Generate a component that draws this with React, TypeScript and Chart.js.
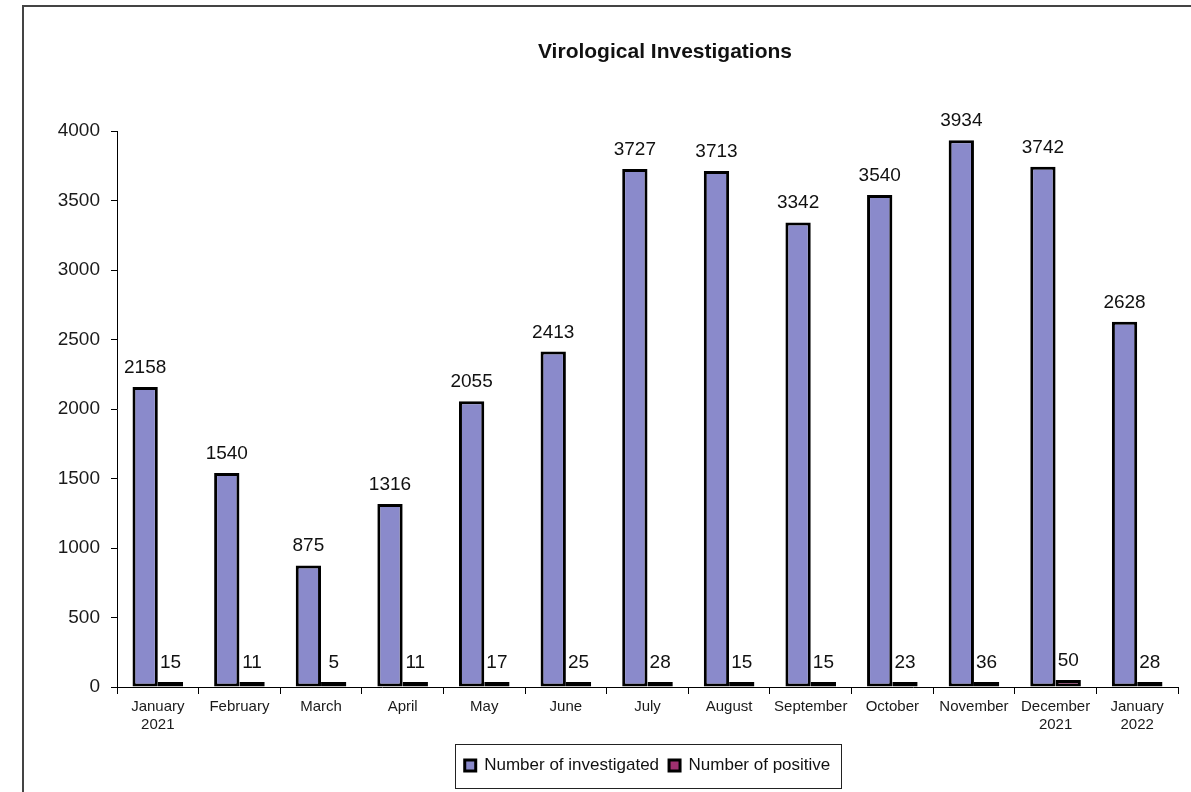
import React, { useEffect, useRef } from "react";
import { Chart, registerables } from "chart.js";

Chart.register(...registerables);

const categories: (string | string[])[] = [
  ["January", "2021"],
  "February",
  "March",
  "April",
  "May",
  "June",
  "July",
  "August",
  "September",
  "October",
  "November",
  ["December", "2021"],
  ["January", "2022"],
];

const investigated = [2158, 1540, 875, 1316, 2055, 2413, 3727, 3713, 3342, 3540, 3934, 3742, 2628];
const positive = [15, 11, 5, 11, 17, 25, 28, 15, 15, 23, 36, 50, 28];

const yTicks = [0, 500, 1000, 1500, 2000, 2500, 3000, 3500, 4000];

const titleText = "Virological Investigations";
const seriesNames = ["Number of investigated", "Number of positive"];

const FONT = "'Liberation Sans', Arial, sans-serif";

const framePlugin = {
  id: "frame",
  beforeDraw(chart: any) {
    const ctx = chart.ctx;
    ctx.save();
    ctx.fillStyle = "#ffffff";
    ctx.fillRect(0, 0, chart.width, chart.height);
    ctx.strokeStyle = "#444";
    ctx.lineWidth = 2;
    ctx.beginPath();
    ctx.moveTo(23, chart.height + 2);
    ctx.lineTo(23, 6);
    ctx.lineTo(chart.width + 2, 6);
    ctx.stroke();
    ctx.restore();
  },
};

const titlePlugin = {
  id: "customTitle",
  afterDraw(chart: any) {
    const ctx = chart.ctx;
    ctx.save();
    ctx.font = `bold 21px ${FONT}`;
    ctx.fillStyle = "#111";
    ctx.textAlign = "center";
    ctx.textBaseline = "middle";
    ctx.fillText(titleText, 665, 52);
    ctx.restore();
  },
};

const labelsPlugin = {
  id: "valueLabels",
  afterDatasetsDraw(chart: any) {
    const ctx = chart.ctx;
    ctx.save();
    ctx.font = `19px ${FONT}`;
    ctx.fillStyle = "#111";
    ctx.textAlign = "center";
    ctx.textBaseline = "alphabetic";
    chart.data.datasets.forEach((ds: any, di: number) => {
      const meta = chart.getDatasetMeta(di);
      meta.data.forEach((el: any, i: number) => {
        ctx.fillText(String(ds.data[i]), el.x, el.y - 14);
      });
    });
    ctx.restore();
  },
};

const legendBoxPlugin = {
  id: "legendBox",
  afterDraw(chart: any) {
    const lg = chart.legend;
    if (!lg || !lg.legendHitBoxes || !lg.legendHitBoxes.length) return;
    const hb = lg.legendHitBoxes;
    const first = hb[0];
    const last = hb[hb.length - 1];
    const left = first.left - 10;
    const right = last.left + last.width + 10;
    const top = first.top - 13.5;
    const bottom = first.top + first.height + 13.5;
    const ctx = chart.ctx;
    ctx.save();
    ctx.strokeStyle = "#222";
    ctx.lineWidth = 1;
    ctx.strokeRect(Math.round(left) + 0.5, Math.round(top) + 0.5, Math.round(right - left), Math.round(bottom - top));
    ctx.restore();
  },
};

export default function App() {
  const ref = useRef<HTMLCanvasElement | null>(null);

  useEffect(() => {
    if (!ref.current) return;
    const chart = new Chart(ref.current, {
      type: "bar",
      data: {
        labels: categories,
        datasets: [
          {
            label: seriesNames[0],
            data: investigated,
            backgroundColor: "#8a8acb",
            borderColor: "#000000",
            borderWidth: 3,
            borderSkipped: false,
            categoryPercentage: 0.62,
            barPercentage: 1.0,
          },
          {
            label: seriesNames[1],
            data: positive,
            backgroundColor: "#a03070",
            borderColor: "#000000",
            borderWidth: 3,
            borderSkipped: false,
            minBarLength: 5,
            categoryPercentage: 0.62,
            barPercentage: 1.0,
          },
        ],
      },
      options: {
        responsive: false,
        animation: false,
        layout: { padding: { top: 131, right: 13, bottom: 8, left: 0 } },
        plugins: {
          title: { display: false },
          tooltip: { enabled: false },
          legend: {
            display: true,
            position: "bottom",
            fullSize: false,
            labels: {
              boxWidth: 11,
              boxHeight: 11,
              padding: 10,
              color: "#111",
              font: { family: FONT, size: 17 },
            },
          },
        },
        scales: {
          x: {
            offset: true,
            grid: {
              offset: true,
              drawOnChartArea: false,
              drawTicks: true,
              tickLength: 7,
              color: "#000",
            },
            border: { display: true, color: "#000", width: 1 },
            ticks: {
              color: "#1a1a1a",
              font: { family: FONT, size: 15, lineHeight: 1.2 },
              padding: 4,
              maxRotation: 0,
              autoSkip: false,
            },
            afterFit(scale: any) {
              scale.height = 60;
            },
          },
          y: {
            min: 0,
            max: 4000,
            afterBuildTicks(scale: any) {
              scale.ticks = yTicks.map((v) => ({ value: v }));
            },
            grid: {
              drawOnChartArea: false,
              drawTicks: true,
              tickLength: 6,
              color: "#000",
            },
            border: { display: true, color: "#000", width: 1 },
            ticks: {
              color: "#1a1a1a",
              font: { family: FONT, size: 19 },
              padding: 11,
              callback: (value: any) => String(value),
            },
            afterFit(scale: any) {
              scale.width = 117;
            },
          },
        },
      },
      plugins: [framePlugin, titlePlugin, labelsPlugin, legendBoxPlugin],
    });
    return () => chart.destroy();
  }, []);

  return (
    <div style={{ position: "fixed", left: 0, top: 0, width: 1191, height: 792, background: "#fff" }}>
      <canvas ref={ref} width={1191} height={792} style={{ display: "block" }} />
    </div>
  );
}
